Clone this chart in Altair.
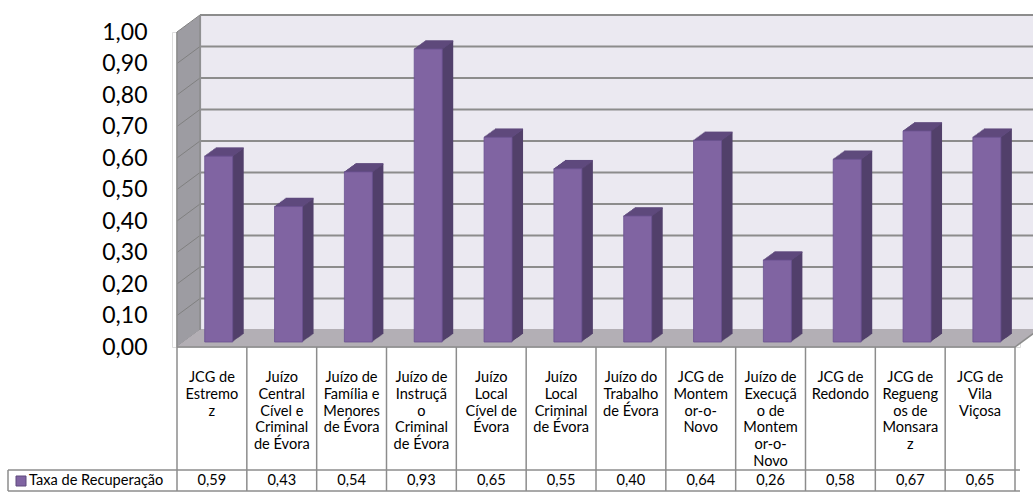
import altair as alt
import pandas as pd

# ---- data ----
category_lines = [
    "JCG de\nEstremo\nz",
    "Juízo\nCentral\nCível e\nCriminal\nde Évora",
    "Juízo de\nFamília e\nMenores\nde Évora",
    "Juízo de\nInstruçã\no\nCriminal\nde Évora",
    "Juízo\nLocal\nCível de\nÉvora",
    "Juízo\nLocal\nCriminal\nde Évora",
    "Juízo do\nTrabalho\nde Évora",
    "JCG de\nMontem\nor-o-\nNovo",
    "Juízo de\nExecuçã\no de\nMontem\nor-o-\nNovo",
    "JCG de\nRedondo",
    "JCG de\nRegueng\nos de\nMonsara\nz",
    "JCG de\nVila\nViçosa",
]
values = [0.59, 0.43, 0.54, 0.93, 0.65, 0.55, 0.40, 0.64, 0.26, 0.58, 0.67, 0.65]
series_name = "Taxa de Recuperação"
y_ticks = [0.0, 0.1, 0.2, 0.3, 0.4, 0.5, 0.6, 0.7, 0.8, 0.9, 1.0]

n = len(values)
bars = pd.DataFrame({
    "idx": list(range(n)),
    "label": category_lines,
    "v": values,
})
bars["c"] = bars["idx"] + 0.5
bars["vlabel"] = [f"{v:.2f}".replace(".", ",") for v in values]
ticks_df = pd.DataFrame({"t": y_ticks})
bounds_df = pd.DataFrame({"b": list(range(n + 1))})
one = pd.DataFrame({"k": [0]})

# ---- styling ----
FONT = "Lato"
TFS = 14.6                # table font size
FRONT = "#8064A2"
SIDE = "#52406B"
TOP = "#5F4A7D"
WALL = "#EBE9F1"
LWALL = "#9D9CA2"
FLOOR = "#B3AFB5"
GRID = "#8C8C8C"
DX, DY = 23, -17          # depth of the 3-D box
BX, BY = 6.8, -5          # bar position inside the box
BW = 28                   # bar front width (px)
SX, SY = 11, -8           # bar depth

xs = alt.Scale(domain=[0, n], nice=False, zero=False)
ys = alt.Scale(domain=[0, 1], nice=False, zero=False)
yaxis = alt.Axis(values=y_ticks, title=None, domain=False, ticks=False, grid=False,
                 labelExpr="replace(format(datum.value, '.2f'), '.', ',')",
                 labelFont=FONT, labelFontSize=23, labelColor="#000000", labelPadding=25)


def X(f):
    return alt.X(f, type="quantitative", scale=xs, axis=None)


def XD(v):
    return alt.XDatum(v, type="quantitative", scale=xs, axis=None)


def Y(f):
    return alt.Y(f, type="quantitative", scale=ys, axis=yaxis)


def YD(v):
    return alt.YDatum(v, type="quantitative", scale=ys, axis=yaxis)


layers = []

# back wall
layers.append(alt.Chart(one).mark_rect(color=WALL, xOffset=DX, x2Offset=DX, yOffset=DY, y2Offset=DY).encode(
    x=XD(0), x2=alt.X2Datum(n + 1), y=YD(0), y2=alt.Y2Datum(1)))
# back wall gridlines
layers.append(alt.Chart(ticks_df).mark_rule(color=GRID, strokeWidth=2, xOffset=DX, x2Offset=DX, yOffset=DY).encode(
    x=XD(0), x2=alt.X2Datum(n + 1), y=Y("t")))
# left wall (staircase)
for k in range(DX + 1):
    off = DY * k / DX
    layers.append(alt.Chart(one).mark_rule(color=LWALL, strokeWidth=1.6, xOffset=k + 0.3,
                                           yOffset=off, y2Offset=off).encode(
        x=XD(0), y=YD(0), y2=alt.Y2Datum(1)))
# left wall gridlines
layers.append(alt.Chart(ticks_df).mark_rule(color="#808080", strokeWidth=1, x2Offset=DX, y2Offset=DY).encode(
    x=XD(0), x2=alt.X2Datum(0), y=Y("t"), y2=alt.Y2("t")))
# floor (staircase)
for k in range(-DY + 1):
    ox = DX * k / (-DY)
    layers.append(alt.Chart(one).mark_rule(color=FLOOR, strokeWidth=1.6, xOffset=ox, x2Offset=ox,
                                           yOffset=-k - 0.3).encode(
        x=XD(0), x2=alt.X2Datum(n), y=YD(0)))
# box edges
layers.append(alt.Chart(one).mark_rule(color=GRID, strokeWidth=1.5).encode(x=XD(0), y=YD(0), y2=alt.Y2Datum(1)))
layers.append(alt.Chart(one).mark_rule(color=GRID, strokeWidth=1.5, xOffset=DX, yOffset=DY, y2Offset=DY).encode(
    x=XD(0), y=YD(0), y2=alt.Y2Datum(1)))
layers.append(alt.Chart(one).mark_rule(color=GRID, strokeWidth=1.5).encode(x=XD(0), x2=alt.X2Datum(n), y=YD(0)))
layers.append(alt.Chart(one).mark_rule(color=GRID, strokeWidth=1.5, x2Offset=DX, y2Offset=DY).encode(
    x=XD(n), x2=alt.X2Datum(n), y=YD(0), y2=alt.Y2Datum(0)))

# bar side faces (staircase of offset bars)
for k in range(SX, 0, -1):
    oy = BY + SY * k / SX
    layers.append(alt.Chart(bars).mark_bar(color=SIDE, width=BW, xOffset=BX + k,
                                           yOffset=oy, y2Offset=oy).encode(
        x=X("c"), y=Y("v"), y2=alt.Y2Datum(0)))
# bar top faces
for k in range(-SY, -1, -1):
    ox = BX + SX * k / (-SY)
    layers.append(alt.Chart(bars).mark_rule(color=TOP, strokeWidth=1.6, xOffset=ox - BW / 2,
                                            x2Offset=ox + BW / 2, yOffset=BY - k).encode(
        x=X("c"), x2=alt.X2("c"), y=Y("v")))
# bar front faces
layers.append(alt.Chart(bars).mark_bar(color=FRONT, width=BW, xOffset=BX, yOffset=BY, y2Offset=BY,
                                       stroke="#6A5290", strokeWidth=0.8).encode(
    x=X("c"), y=Y("v"), y2=alt.Y2Datum(0)))

# ---- data table ----
TCOL = "#8C8C8C"
layers.append(alt.Chart(bounds_df).mark_rule(color=TCOL, strokeWidth=1.5).encode(
    x=X("b"), y=alt.value(315), y2=alt.value(459)))
layers.append(alt.Chart(one).mark_rule(color=TCOL, strokeWidth=1.5).encode(
    x=alt.value(-164), x2=alt.value(848), y=alt.value(438)))
layers.append(alt.Chart(one).mark_rule(color=TCOL, strokeWidth=1.5).encode(
    x=alt.value(-164), x2=alt.value(848), y=alt.value(459)))
layers.append(alt.Chart(one).mark_rule(color=TCOL, strokeWidth=1.5).encode(
    x=alt.value(-164), y=alt.value(438), y2=alt.value(459)))
layers.append(alt.Chart(bars).mark_text(font=FONT, fontSize=TFS, lineBreak="\n", lineHeight=16.8,
                                        baseline="top", align="center", color="#000000").encode(
    x=X("c"), y=alt.value(338), text="label:N"))
layers.append(alt.Chart(bars).mark_text(font=FONT, fontSize=TFS, baseline="middle", align="center",
                                        color="#000000").encode(
    x=X("c"), y=alt.value(449), text="vlabel:N"))
layers.append(alt.Chart(one).transform_calculate(s=f"'{series_name}'").mark_text(
    font=FONT, fontSize=TFS, baseline="middle", align="left", color="#000000").encode(
    x=alt.value(-143), y=alt.value(449), text="s:N"))
layers.append(alt.Chart(one).mark_square(size=100, color=FRONT, opacity=1, stroke="#5F4A7D", strokeWidth=1).encode(
    x=alt.value(-151), y=alt.value(449)))

chart = alt.layer(*layers).properties(
    width=848, height=315,
    padding={"left": 172, "top": 32, "right": 13, "bottom": 150},
    autosize=alt.AutoSizeParams(type="none"),
).configure_view(stroke=None).configure(background="white")

chart.save("out.html", embed_options={"renderer": "svg", "actions": False})
